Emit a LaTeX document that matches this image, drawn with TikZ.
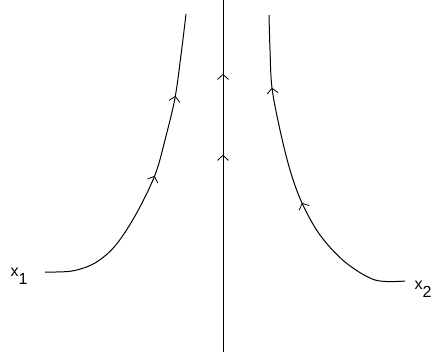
\documentclass[tikz,border=0pt]{standalone}
\usepackage{fontspec}
\setmainfont{Liberation Sans}
\usetikzlibrary{arrows.meta,decorations.markings}
\tikzset{
  curve/.style={line width=1pt},
  lbl/.style={font=\fontsize{16}{16}\selectfont, inner sep=0pt},
  marks/.style 2 args={postaction={decorate,decoration={markings,
     mark=at position #1 with {\arrow{Straight Barb[length=5pt,width=11pt,line width=0.8pt]}},
     mark=at position #2 with {\arrow{Straight Barb[length=5pt,width=11pt,line width=0.8pt]}}}}}
}
\begin{document}
\begin{tikzpicture}[x=1pt,y=-1pt]
\useasboundingbox (0,0) rectangle (436,352);
\coordinate (cb) at (223,352);
\coordinate (ct) at (223,0);
\draw[curve, marks={0.56}{0.79}] (cb) -- (ct);
\draw[curve, marks={0.49}{0.745}] plot[smooth, tension=0.55] coordinates
  {(45,272) (72,271) (95,263) (115,246) (135,216) (155,175) (166,136) (175,98) (181,55) (186,14)};
\draw[curve, marks={0.42}{0.78}] plot[smooth, tension=0.55] coordinates
  {(405,281) (375,280) (345,262) (320,235) (302,203) (290,170) (280,130) (272,88) (270,50) (269,15)};
\node[lbl] (x1) at (19,276) {x\raisebox{-8pt}{1}};
\node[lbl] (x2) at (423,289) {x\raisebox{-8pt}{2}};
\end{tikzpicture}
\end{document}
